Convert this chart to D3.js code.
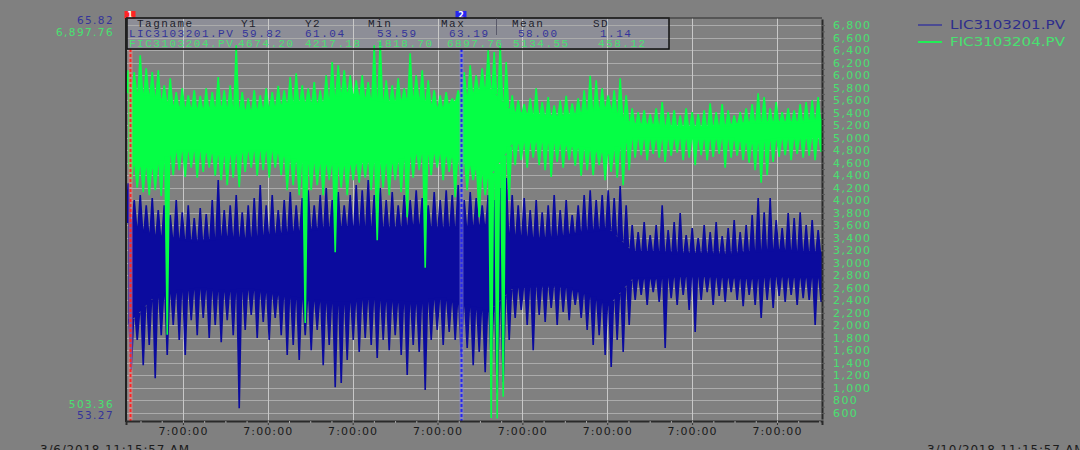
<!DOCTYPE html>
<html>
<head>
<meta charset="utf-8">
<script src="https://cdn.jsdelivr.net/npm/d3@7"></script>
<style>
  html, body { margin: 0; padding: 0; background: #808080; overflow: hidden; }
  svg { display: block; }
</style>
</head>
<body>
<svg id="chart" width="1080" height="450"></svg>
<script>
const startTime = new Date(2018, 2, 6, 11, 15, 57);
const endTime = new Date(2018, 2, 10, 11, 15, 57);
const viewStart = new Date(2018, 2, 6, 10, 57, 0);
const viewEnd = new Date(2018, 2, 10, 13, 22, 0);
const sampleMinutes = 50.9;   // one envelope bucket
const coreEvery = 4;          // core band is sampled every 4 buckets

const tagNames = ["LIC3103201.PV", "FIC3103204.PV"];
const blueRange = [53.27, 65.82];
const greenRange = [503.36, 6897.76];
const greenTicks = [600, 800, 1000, 1200, 1400, 1600, 1800, 2000, 2200, 2400, 2600, 2800, 3000,
  3200, 3400, 3600, 3800, 4000, 4200, 4400, 4600, 4800, 5000, 5200, 5400, 5600, 5800, 6000,
  6200, 6400, 6600, 6800];

const tableHeader = ["Tagname", "Y1", "Y2", "Min", "Max", "Mean", "SD"];
const tableBlue = ["LIC3103201.PV", "59.82", "61.04", "53.59", "63.19", "58.00", "1.14"];
const tableGreen = ["FIC3103204.PV", "4674.20", "4217.18", "1818.70", "6897.76", "5134.55", "458.12"];

// FIC3103204.PV peaks / troughs per bucket
const greenHi = [6080,6050,6320,6110,6050,6080,5840,5950,5730,5790,
  5680,5760,5670,5790,5730,5970,5760,5840,6480,5730,
  5630,5760,5680,5790,5730,5830,5760,5970,6030,5840,
  5790,5890,5760,6000,6210,6160,6080,6000,5920,6000,
  5890,6480,6530,5920,5840,5950,5790,6350,6000,6080,
  5920,5760,5680,5730,5630,5760,6050,6160,6000,6110,
  6400,6370,6480,6210,5680,5600,5540,5630,5790,5570,
  5650,5520,5600,5670,5550,5630,5760,5990,5920,5790,
  5680,5760,5950,5680,5470,5410,5440,5380,5470,5570,
  5410,5440,5360,5470,5410,5380,5440,5550,5410,5540,
  5440,5360,5410,5470,5540,5710,5650,5470,5570,5410,
  5470,5440,5540,5570,5600,5650];
const greenLo = [4280,4200,4130,4080,4160,4070,1850,4400,4480,4370,
  4520,4360,4450,4520,4390,4320,4240,4360,4210,4450,
  4520,4390,4480,4360,4520,4400,4160,4240,4080,2040,
  4160,4240,4080,4320,3170,4200,4080,4320,4280,4360,
  4160,3360,4200,4080,4320,4130,3730,4360,4480,2920,
  4400,4520,4320,4450,4050,4290,4160,4320,3730,4080,
  520,510,860,4000,4560,4640,4520,4680,4560,4480,
  4370,4610,4520,4640,4550,4390,4480,4400,4560,4320,
  4450,4360,4240,4480,4680,4720,4640,4740,4680,4610,
  4710,4760,4640,4680,4560,4720,4640,4690,4740,4520,
  4680,4710,4640,4600,4480,4280,4400,4610,4690,4720,
  4640,4740,4680,4710,4640,4770];
const greenCoreHi = [5840,5790,5600,5570,5600,5540,5600,5680,5650,5840,5730,5680,5760,5570,5760,
  5920,5520,5470,5440,5520,5600,5330,5310,5280,5280,5310,5360,5360,5360,5410];
const greenCoreLo = [4480,4400,4680,4680,4610,4680,4690,4520,4480,4450,4520,4480,4640,4640,4520,
  4240,4800,4830,4800,4720,4640,4880,4870,4880,4870,4880,4800,4870,4880,4910];

// LIC3103201.PV peaks / troughs per bucket
const blueHi = [60.67,60.14,60.30,59.98,60.20,59.83,59.98,59.67,60.14,59.76,
  59.98,59.58,59.89,59.70,60.14,60.77,59.83,59.98,60.30,59.76,
  59.98,60.20,60.61,59.98,60.30,59.83,60.14,60.39,59.98,60.20,
  60.45,59.98,60.30,60.52,60.14,60.39,59.98,60.30,60.61,60.45,
  60.77,60.30,60.52,60.14,60.39,59.98,60.30,60.14,60.45,60.20,
  59.98,60.39,60.14,60.45,60.30,60.61,60.14,60.39,60.20,59.98,
  60.30,60.14,60.52,60.83,60.30,59.98,60.20,59.83,60.14,59.76,
  59.98,60.30,59.83,60.14,59.67,59.98,60.30,60.45,60.14,60.30,
  60.45,60.20,60.58,59.98,59.36,59.14,59.45,59.04,59.36,59.98,
  59.20,59.45,59.73,59.04,59.26,58.95,59.36,59.14,59.45,59.01,
  59.26,59.51,59.14,59.36,59.67,60.20,59.76,60.20,59.51,59.26,
  59.73,59.58,59.76,59.36,59.51,59.20];
const blueLo = [54.81,55.75,54.96,55.59,54.55,55.90,55.28,56.22,55.75,55.28,
  56.37,55.90,56.44,55.81,56.22,55.68,56.37,55.90,53.61,56.06,
  56.53,55.81,56.31,55.75,56.44,55.90,55.28,55.59,55.12,55.90,
  55.43,56.06,54.96,55.59,54.27,54.40,55.12,55.75,55.37,55.81,
  55.59,55.18,55.75,55.43,55.90,55.28,54.65,55.59,55.37,54.18,
  55.75,56.06,55.59,56.00,55.75,55.28,55.50,54.96,55.37,54.74,
  55.12,54.08,54.43,55.75,56.44,56.69,56.22,55.43,56.53,56.31,
  56.75,56.22,56.63,56.37,56.85,56.44,56.06,55.59,55.90,55.28,
  54.90,55.75,55.37,56.22,57.00,57.16,56.85,57.25,56.94,55.50,
  57.06,56.85,57.16,56.69,56.00,57.00,57.25,56.85,57.13,56.94,
  57.25,57.00,56.81,57.16,56.85,56.44,57.00,56.75,57.13,56.94,
  57.16,56.85,57.06,57.00,56.22,56.94];
const blueCoreHi = [59.67,59.26,59.14,59.04,59.20,59.14,59.26,59.36,59.45,59.51,59.51,59.45,59.58,59.45,59.51,
  59.58,59.26,59.14,59.20,59.36,59.45,58.73,58.73,58.67,58.67,58.63,58.73,58.79,58.73,58.70];
const blueCoreLo = [56.06,56.85,57.06,57.16,57.06,57.13,57.00,56.85,56.75,56.69,56.85,56.75,56.69,56.85,56.63,
  56.44,57.16,57.25,57.25,57.00,56.63,57.47,57.47,57.54,57.54,57.50,57.47,57.54,57.50,57.50];

// cursors
const cursor1 = new Date(2018, 2, 6, 11, 35, 0);
const cursor2 = new Date(2018, 2, 8, 10, 20, 0);

// ---- chart ----
const BLUE = "#0b0b9e", GREEN = "#05ff45";
const BLUE_TXT = "#34349a", GREEN_TXT = "#48e070";
const L = 126, R = 822, T = 18, B = 421;

const svg = d3.select("#chart");

const x = d3.scaleTime().domain([viewStart, viewEnd]).range([L, R]);
const yG = d3.scaleLinear().domain(greenRange).range([419, 19]);
const yB = d3.scaleLinear().domain(blueRange).range([419, 19]);

const tAt = k => new Date(+startTime + k * sampleMinutes * 60000);
const majorHours = d3.timeHour.filter(d => d.getHours() % 12 === 7);
const minorHours = d3.timeHour.filter(d => (d.getHours() + 24 - 7) % 3 === 0);

svg.append("defs").append("clipPath").attr("id", "plot")
  .append("rect").attr("x", L).attr("y", T).attr("width", R - L).attr("height", B - T);

// table background (sits under grid and traces)
svg.append("rect").attr("x", 127).attr("y", T).attr("width", 542).attr("height", 31)
  .attr("fill", "#8d8e97");

// grid
svg.append("g").selectAll("line").data(greenTicks).enter().append("line")
  .attr("x1", L).attr("x2", R)
  .attr("y1", d => Math.round(yG(d)) + 0.5).attr("y2", d => Math.round(yG(d)) + 0.5)
  .attr("stroke", "#ababab").attr("stroke-width", 1);
svg.append("g").selectAll("line").data(x.ticks(majorHours)).enter().append("line")
  .attr("x1", d => Math.round(x(d)) + 0.5).attr("x2", d => Math.round(x(d)) + 0.5)
  .attr("y1", T).attr("y2", B)
  .attr("stroke", "#c8c8c8").attr("stroke-width", 1);

// traces: solid core band plus a spike per bucket (up at hi, down at lo)
function drawTrace(y, hi, lo, coreHi, coreLo, color) {
  const coreT = coreHi.map((v, k) => tAt(k * coreEvery));
  const topAt = d3.scaleTime().domain(coreT).range(coreHi).clamp(true);
  const botAt = d3.scaleTime().domain(coreT).range(coreLo).clamp(true);
  const g = svg.append("g").attr("clip-path", "url(#plot)");
  g.append("path")
    .datum(coreT)
    .attr("fill", color)
    .attr("d", d3.area().x(d => x(d)).y1(d => y(topAt(d)) + 6).y0(d => y(botAt(d)) - 6));
  const p = d3.path();
  const bw = 3.1, tw = 0.8;
  hi.forEach((h, i) => {
    const tu = tAt(i), td = tAt(i + 0.5);
    const xu = x(tu), xd = x(td);
    const bu = y(topAt(tu)) + 8, bd = y(botAt(td)) - 8;
    p.moveTo(xu - bw, bu); p.lineTo(xu - tw, y(h)); p.lineTo(xu + tw, y(h)); p.lineTo(xu + bw, bu); p.closePath();
    p.moveTo(xd - bw, bd); p.lineTo(xd - tw, y(lo[i])); p.lineTo(xd + tw, y(lo[i])); p.lineTo(xd + bw, bd); p.closePath();
  });
  g.append("path").attr("d", p.toString()).attr("fill", color);
}
drawTrace(yB, blueHi, blueLo, blueCoreHi, blueCoreLo, BLUE);
drawTrace(yG, greenHi, greenLo, greenCoreHi, greenCoreLo, GREEN);

// cursors: drawn over the traces, tucked under the table
function cursor(t, color, halo, label) {
  const cx = Math.round(x(t)) + 0.5;
  svg.append("line").attr("x1", cx).attr("x2", cx).attr("y1", 49).attr("y2", B)
    .attr("stroke", halo).attr("stroke-width", 4).attr("opacity", 0.55);
  svg.append("line").attr("x1", cx).attr("x2", cx).attr("y1", 49).attr("y2", B)
    .attr("stroke", color).attr("stroke-width", 2).attr("stroke-dasharray", "3,2");
  svg.append("rect").attr("x", cx - 6).attr("y", 11).attr("width", 11).attr("height", 8)
    .attr("fill", color);
  svg.append("text").attr("x", cx - 0.5).attr("y", 18).attr("text-anchor", "middle")
    .attr("fill", "#fff").style("font-family", "DejaVu Sans").style("font-size", "8px")
    .style("font-weight", "bold").text(label);
}
cursor(cursor1, "#ff2424", "#f39090", "1");
cursor(cursor2, "#2626f0", "#8a8ae0", "2");

// table border + text
svg.append("rect").attr("x", 127).attr("y", T).attr("width", 542).attr("height", 31)
  .attr("fill", "none").attr("stroke", "#111").attr("stroke-width", 1.5);
svg.append("line").attr("x1", 496.5).attr("x2", 496.5).attr("y1", T).attr("y2", 35)
  .attr("stroke", "#5a5a6a").attr("stroke-width", 1);

const headX = [137, 241, 305, 368, 441, 512, 593];
const blueX = [129, 242, 305, 377, 449, 518, 600];
const greenX = [129, 238, 305, 377, 447, 513, 598];
function tableRow(vals, xs, yy, color) {
  svg.append("g").selectAll("text").data(vals).enter().append("text")
    .attr("x", (d, i) => xs[i]).attr("y", yy)
    .attr("fill", color)
    .style("font-family", "'Liberation Mono', 'DejaVu Sans Mono', monospace")
    .style("font-size", "11px").style("letter-spacing", "1.5px")
    .text(d => d);
}
tableRow(tableHeader, headX, 27, "#1e1e2c");
tableRow(tableBlue, blueX, 37, BLUE_TXT);
tableRow(tableGreen, greenX, 47, GREEN_TXT);

// frame
svg.append("line").attr("x1", L).attr("x2", R).attr("y1", T).attr("y2", T)
  .attr("stroke", "#2a2a2a").attr("stroke-width", 1);
svg.append("line").attr("x1", L).attr("x2", L).attr("y1", T).attr("y2", B + 1)
  .attr("stroke", "#202020").attr("stroke-width", 2);

// right axis
const yAxis = svg.append("g").attr("transform", `translate(${R},0)`)
  .call(d3.axisRight(yG).tickValues(greenTicks).tickSize(0).tickPadding(11)
    .tickFormat(d3.format(",")));
yAxis.select(".domain").attr("stroke", "#2a2a2a").attr("stroke-width", 2);
yAxis.selectAll("text").attr("fill", GREEN_TXT)
  .style("font-family", "DejaVu Sans").style("font-size", "11px").style("letter-spacing", "1.4px");
svg.append("g").attr("transform", `translate(${R},0)`)
  .call(d3.axisRight(yG).tickValues(d3.range(greenTicks[0], greenTicks[greenTicks.length - 1] + 1, 100))
    .tickSize(3).tickFormat(""))
  .call(g => g.select(".domain").remove())
  .selectAll("line").attr("stroke", "#5a5a5a");

// bottom axis
const xAxis = svg.append("g").attr("transform", `translate(0,${B})`)
  .call(d3.axisBottom(x).ticks(majorHours).tickSize(4).tickPadding(2)
    .tickFormat(d3.timeFormat("%-I:%M:%S")));
xAxis.select(".domain").attr("stroke", "#2a2a2a").attr("stroke-width", 2);
xAxis.selectAll(".tick line").attr("stroke", "#333");
xAxis.selectAll("text").attr("fill", "#1a1a1a")
  .style("font-family", "DejaVu Sans").style("font-size", "11px").style("letter-spacing", "1.1px");
svg.append("g").attr("transform", `translate(0,${B})`)
  .call(d3.axisBottom(x).ticks(minorHours).tickSize(2).tickFormat(""))
  .call(g => g.select(".domain").remove())
  .selectAll("line").attr("stroke", "#a8a8a8");

// scale end labels on the left
const edgeFmt = d3.format(",.2f");
const leftLabels = [
  [edgeFmt(blueRange[1]), 24, BLUE_TXT],
  [edgeFmt(greenRange[1]), 36, GREEN_TXT],
  [edgeFmt(greenRange[0]), 408, GREEN_TXT],
  [edgeFmt(blueRange[0]), 419, BLUE_TXT]
];
svg.append("g").selectAll("text").data(leftLabels).enter().append("text")
  .attr("x", 114).attr("y", d => d[1]).attr("text-anchor", "end")
  .attr("fill", d => d[2])
  .style("font-family", "DejaVu Sans").style("font-size", "10.5px").style("letter-spacing", "1.4px")
  .text(d => d[0]);

// legend
const legend = svg.append("g").selectAll("g").data(tagNames).enter().append("g")
  .attr("transform", (d, i) => `translate(918,${25 + i * 17})`);
legend.append("line").attr("x1", 0).attr("x2", 24)
  .attr("stroke", (d, i) => i ? "#22ee55" : "#3a3a9a").attr("stroke-width", (d, i) => i ? 2 : 1.5);
legend.append("text").attr("x", 32).attr("y", 4)
  .attr("fill", (d, i) => i ? GREEN_TXT : "#2e2e8c")
  .attr("textLength", 115).attr("lengthAdjust", "spacingAndGlyphs")
  .style("font-family", "DejaVu Sans").style("font-size", "12px")
  .text(d => d);

// time range labels (clipped by the bottom edge, as in the source screen)
const rangeFmt = d3.timeFormat("%-m/%-d/%Y %-I:%M:%S %p");
svg.append("text").attr("x", 40).attr("y", 454).attr("fill", "#1c1c1c")
  .style("font-family", "DejaVu Sans").style("font-size", "12px").style("letter-spacing", "0.8px")
  .text(rangeFmt(startTime));
svg.append("text").attr("x", 927).attr("y", 454).attr("fill", "#1c1c1c")
  .style("font-family", "DejaVu Sans").style("font-size", "12px").style("letter-spacing", "0.8px")
  .text(rangeFmt(endTime));
</script>
</body>
</html>
